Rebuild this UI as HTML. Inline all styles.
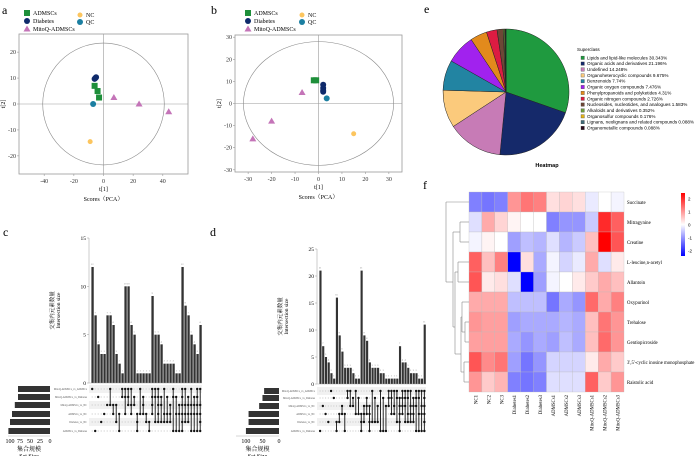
<!DOCTYPE html>
<html><head><meta charset="utf-8"><style>
body{margin:0;background:#fff;}
svg{display:block;font-family:"Liberation Serif","Noto Serif CJK SC",serif;}
.s{font-family:"Liberation Sans",sans-serif;}
</style></head><body>
<svg id="fig" width="700" height="456" viewBox="0 0 700 456">
<text x="2" y="14" font-size="12">a</text>
<text x="211" y="14" font-size="12">b</text>
<text x="424" y="13" font-size="12">e</text>
<text x="423" y="189" font-size="12">f</text>
<text x="3" y="236" font-size="12">c</text>
<text x="210" y="236" font-size="12">d</text>
<g id="gA"></g>
<g id="gB"></g>
<g id="gE"></g>
<g id="gF"></g>
<g id="gC"></g>
<g id="gD"></g>
</svg>
<script>
// ---------- data ----------
const pcaGroups=["ADMSCs","Diabetes","NC","QC","MitoQ-ADMSCs"];
const pcaAx=[-6,-4,-3]; const pcaAy=[7,5,2.5];
const pcaDx=[-5.5,-5,-6]; const pcaDy=[10,10.3,9.7];
const pcaQCx=[-7]; const pcaQCy=[0];
const pcaNCx=[-9]; const pcaNCy=[-14.5];
const pcaMx=[7,24,44]; const pcaMy=[2.5,0,-3];
const pcaTicksAx=[-40,-20,0,20,40]; const pcaTicksAy=[-20,-10,0,10,20];
const pcbAx=[-2,-1]; const pcbAy=[10.5,10.5];
const pcbDx=[2,2,2,2]; const pcbDy=[8.5,7,6,5.3];
const pcbQCx=[3.5]; const pcbQCy=[2.3];
const pcbNCx=[15]; const pcbNCy=[-13.7];
const pcbMx=[-7,-20,-28]; const pcbMy=[5,-8,-16];
const pcbTicksX=[-30,-20,-10,0,10,20,30]; const pcbTicksY=[-30,-20,-10,0,10,20,30];

const pieLabels=["Lipids and lipid-like molecules","Organic acids and derivatives","Undefined","Organoheterocyclic compounds","Benzenoids","Organic oxygen compounds","Phenylpropanoids and polyketides","Organic nitrogen compounds","Nucleosides, nucleotides, and analogues","Alkaloids and derivatives","Organosulfur compounds","Lignans, neolignans and related compounds","Organometallic compounds"];
const pieValues=[30.343,21.196,14.248,9.675,7.74,7.476,4.31,2.726,1.583,0.352,0.176,0.088,0.088];
const pieColors=["#1f9a3f","#15296a","#c77bb6","#fbca7c","#2284a2","#a122ee","#e28a1c","#dc1c42","#6d4736","#6d9c3c","#e2b21a","#3f6a78","#2b0b1c"];

const hmRows=["Succinate","Mitragynine","Creatine","L-leucine,n-acetyl","Allantoin","Oxypurinol","Trehalose","Gentiopicroside","3',5'-cyclic inosine monophosphate","Raistolic acid"];
const hmCols=["NC1","NC2","NC3","Diabetes1","Diabetes2","Diabetes3","ADMSCs1","ADMSCs2","ADMSCs3","MitoQ-ADMSCs1","MitoQ-ADMSCs2","MitoQ-ADMSCs3"];
const hmValues=[
[-1.2,-1.3,-1.2,1.0,1.3,1.2,0.3,0.4,0.3,-0.2,0,-0.1],
[-0.3,0.8,0.4,0.1,0,0,-1.2,-1.0,-1.0,-0.5,2.0,1.5],
[-0.1,0.1,0,-0.9,-0.6,-0.7,-0.3,-0.7,-0.5,0.6,2.4,1.6],
[1.5,0.6,1.2,-2.4,0.3,-0.8,-0.1,-0.4,-0.2,0.8,-0.3,0.2],
[1.6,0.2,0.3,-0.3,-2.4,-0.9,-0.1,0,0.2,0.5,0.8,0.6],
[0.8,0.8,0.8,-0.6,-0.6,-0.6,-1.3,-0.8,-1.0,1.4,0.8,1.2],
[1.0,0.9,0.9,-0.9,-0.8,-0.8,-0.8,-0.7,-0.8,0.6,1.3,1.0],
[0.9,0.9,0.9,-0.8,-1.0,-0.8,-0.9,-0.6,-0.8,0.6,1.4,1.0],
[1.6,1.1,1.3,-0.9,-1.3,-1.0,-0.4,-0.4,-0.4,0.2,0.8,0.5],
[1.0,0.5,0.7,-1.2,-1.3,-1.2,-0.3,-0.3,-0.3,1.5,0.5,1.0]];
const hmLegendTicks=[2,1,0,-1,-2];

const upSets=["MitoQ-ADMSCs_vs_ADMSCs","MitoQ-ADMSCs_vs_Diabetes","MitoQ-ADMSCs_vs_NC","ADMSCs_vs_NC","Diabetes_vs_NC","ADMSCs_vs_Diabetes"];
const upCSizes=[80,80,88,95,100,104];
const upCValues=[12,7,4,3,3,7,7,6,3,2,1,10,10,6,5,1,1,1,1,1,9,5,5,4,2,2,2,2,1,1,12,8,7,5,4,3,6];
const upCMasks=[1,32,2,16,8,4,5,12,20,40,3,11,7,13,6,56,9,14,24,48,15,19,31,22,25,26,28,35,42,44,63,29,30,45,46,47,61];
const upCTicks=[0,5,10,15]; const upCSizeTicks=[100,75,50,25,0];
const upDSizes=[45,50,60,92,92,100];
const upDValues=[21,7,5,4,2,1,16,9,6,3,3,3,2,1,1,21,9,8,4,3,3,3,2,2,1,1,1,1,1,7,4,4,3,2,2,2,1,1,11];
const upDMasks=[32,4,8,16,1,2,48,24,12,40,3,5,6,9,10,56,28,14,60,17,18,20,33,34,36,7,11,13,19,62,15,23,27,29,30,39,43,45,63];
const upDTicks=[0,5,10,15,20,25]; const upDSizeTicks=[100,50,0];

// ---------- helpers ----------
const NS="http://www.w3.org/2000/svg";
function mk(parent,tag,attrs,name){const e=document.createElementNS(NS,tag);for(const k in attrs)e.setAttribute(k,attrs[k]);


parent.appendChild(e);return e;}
function txt(parent,x,y,s,size,name,extra){const t=mk(parent,'text',Object.assign({x:x,y:y,'font-size':size},extra||{}),name);t.textContent=s;return t;}

// ---------- PCA ----------
function pca(g,box,xs,ys,xr,yr,tx,ty,ell,pts,leg){
  const sx=v=>box.x0+(v-xr[0])/(xr[1]-xr[0])*(box.x1-box.x0);
  const sy=v=>box.y1-(v-yr[0])/(yr[1]-yr[0])*(box.y1-box.y0);
  mk(g,'rect',{x:box.x0,y:box.y0,width:box.x1-box.x0,height:box.y1-box.y0,fill:'none',stroke:'#999','stroke-width':0.8},'plot-frame');
  mk(g,'line',{x1:box.x0,x2:box.x1,y1:sy(0),y2:sy(0),stroke:'#999','stroke-width':0.6},'zero-line-h');
  mk(g,'line',{x1:sx(0),x2:sx(0),y1:box.y0,y2:box.y1,stroke:'#999','stroke-width':0.6},'zero-line-v');
  mk(g,'ellipse',{cx:sx(0),cy:sy(0),rx:sx(ell[0])-sx(0),ry:sy(0)-sy(ell[1]),fill:'none',stroke:'#888','stroke-width':0.6},'hotelling-ellipse');
  tx.forEach(v=>{mk(g,'line',{x1:sx(v),x2:sx(v),y1:box.y1,y2:box.y1+2,stroke:'#999','stroke-width':0.6},'x-tick');txt(g,sx(v),box.y1+9,String(v),6,'x-tick-label',{'text-anchor':'middle',fill:'#333'});});
  ty.forEach(v=>{mk(g,'line',{x1:box.x0-2,x2:box.x0,y1:sy(v),y2:sy(v),stroke:'#999','stroke-width':0.6},'y-tick');txt(g,box.x0-3,sy(v)+2,String(v),6,'y-tick-label',{'text-anchor':'end',fill:'#333'});});
  txt(g,(box.x0+box.x1)/2,box.y1+17,'t[1]',6,'x-axis-title',{'text-anchor':'middle'});
  txt(g,(box.x0+box.x1)/2,box.y1+27,'Scores（PCA）',6,'x-axis-subtitle',{'text-anchor':'middle'});
  txt(g,box.x0-14,(box.y0+box.y1)/2,'t[2]',6,'y-axis-title',{'text-anchor':'middle',transform:`rotate(-90 ${box.x0-14} ${(box.y0+box.y1)/2})`});
  pts.forEach(p=>{p.x.forEach((v,i)=>drawMark(g,p.type,sx(v),sy(p.y[i]),p.col,'point-'+p.name));});
  leg.forEach(l=>{drawMark(g,l.type,l.x,l.y,l.col,'legend-marker');txt(g,l.x+6,l.y+2,l.name,6,'legend-entry');});
}
function drawMark(g,type,x,y,c,name){
  if(type==='sq')mk(g,'rect',{x:x-3,y:y-3,width:6,height:6,fill:c},name);
  else if(type==='ci')mk(g,'circle',{cx:x,cy:y,r:3,fill:c},name);
  else if(type==='di')mk(g,'circle',{cx:x,cy:y,r:2.5,fill:c},name);
  else mk(g,'path',{d:`M${x},${y-3.5}L${x+3.5},${y+2.5}L${x-3.5},${y+2.5}Z`,fill:c},name);
}
const GRN='#1e8f3a',NAV='#0f2a6b',ORG='#fcc55e',TEA='#1b7fa1',PNK='#c474b8';
pca(document.getElementById('gA'),{x0:19,x1:188,y0:34,y1:174},0,0,[-57,57],[-27,27],pcaTicksAx,pcaTicksAy,[41,23.5],
 [{x:pcaAx,y:pcaAy,type:'sq',col:GRN,name:'admscs'},{x:pcaDx,y:pcaDy,type:'ci',col:NAV,name:'diabetes'},{x:pcaQCx,y:pcaQCy,type:'ci',col:TEA,name:'qc'},{x:pcaNCx,y:pcaNCy,type:'di',col:ORG,name:'nc'},{x:pcaMx,y:pcaMy,type:'tr',col:PNK,name:'mitoq'}],
 [{x:27,y:13,type:'sq',col:GRN,name:'ADMSCs'},{x:27,y:21,type:'ci',col:NAV,name:'Diabetes'},{x:27,y:29,type:'tr',col:PNK,name:'MitoQ-ADMSCs'},{x:80,y:15,type:'di',col:ORG,name:'NC'},{x:80,y:22,type:'ci',col:TEA,name:'QC'}]);
pca(document.getElementById('gB'),{x0:235,x1:402,y0:35,y1:172},0,0,[-35.6,35.6],[-31,31],pcbTicksX,pcbTicksY,[32,28],
 [{x:pcbAx,y:pcbAy,type:'sq',col:GRN,name:'admscs'},{x:pcbDx,y:pcbDy,type:'ci',col:NAV,name:'diabetes'},{x:pcbQCx,y:pcbQCy,type:'ci',col:TEA,name:'qc'},{x:pcbNCx,y:pcbNCy,type:'di',col:ORG,name:'nc'},{x:pcbMx,y:pcbMy,type:'tr',col:PNK,name:'mitoq'}],
 [{x:248,y:13,type:'sq',col:GRN,name:'ADMSCs'},{x:248,y:21,type:'ci',col:NAV,name:'Diabetes'},{x:248,y:29,type:'tr',col:PNK,name:'MitoQ-ADMSCs'},{x:302,y:15,type:'di',col:ORG,name:'NC'},{x:302,y:22,type:'ci',col:TEA,name:'QC'}]);

// ---------- Pie ----------
(function(){
 const g=document.getElementById('gE');const cx=506,cy=92,r=63;
 const tot=pieValues.reduce((a,b)=>a+b,0);let a=0;
 pieValues.forEach((v,i)=>{const a0=a/tot*2*Math.PI;a+=v;const a1=a/tot*2*Math.PI;
  const x0=cx+r*Math.sin(a0),y0=cy-r*Math.cos(a0),x1=cx+r*Math.sin(a1),y1=cy-r*Math.cos(a1);
  mk(g,'path',{d:`M${cx},${cy}L${x0},${y0}A${r},${r} 0 ${(a1-a0)>Math.PI?1:0} 1 ${x1},${y1}Z`,fill:pieColors[i],stroke:'#222','stroke-width':0.5},'pie-slice');});
 txt(g,577,51,'Superclass',4.6,'legend-title',{class:'s'});
 pieLabels.forEach((l,i)=>{const y=57.7+i*5.85;
  mk(g,'rect',{x:581,y:y-1.6,width:3.4,height:3.4,fill:pieColors[i],stroke:'#333','stroke-width':0.3},'legend-swatch');
  txt(g,587,y+1.6,l+' '+pieValues[i]+'%',4.6,'legend-entry',{class:'s'});});
 txt(g,547,167,'Heatmap',5.5,'heatmap-title',{class:'s','font-weight':'bold','text-anchor':'middle'});
})();

// ---------- Heatmap ----------
(function(){
 const g=document.getElementById('gF');const x0=469,y0=192,cw=155/12,rh=20;
 function col(v){const t=Math.max(-1,Math.min(1,v/2.4));
  if(t>=0){const k=Math.round(255*(1-t));return `rgb(255,${k},${k})`;}const k=Math.round(255*(1+t));return `rgb(${k},${k},255)`;}
 hmValues.forEach((row,r)=>row.forEach((v,c)=>mk(g,'rect',{x:x0+c*cw,y:y0+r*rh,width:cw,height:rh,fill:col(v),stroke:'#bbb','stroke-width':0.3},'heatmap-cell')));
 hmRows.forEach((n,r)=>txt(g,x0+12*cw+3,y0+r*rh+rh/2+2,n,4.8,'row-label'));
 hmCols.forEach((n,c)=>{const x=x0+c*cw+cw/2+2,y=y0+10*rh+3;txt(g,x,y,n,4.8,'column-label',{'text-anchor':'end',transform:`rotate(-90 ${x} ${y})`});});
 const yc=r=>y0+r*rh+rh/2;const L=(a,b,c,d)=>mk(g,'line',{x1:a,y1:b,x2:c,y2:d,stroke:'#888','stroke-width':0.6},'dendrogram-branch');
 const seg=(x,ya,yb,xa,xb)=>{L(x,ya,x,yb);L(x,ya,xa,ya);L(x,yb,xb,yb);};
 seg(460,yc(1),yc(2),x0,x0);
 seg(465,yc(6),yc(7),x0,x0);
 seg(464,yc(8),yc(9),x0,x0);
 seg(462,yc(5),(yc(6)+yc(7))/2,x0,465);
 seg(461,(yc(5)+yc(6))/2+5,(yc(8)+yc(9))/2,462,464);
 seg(458,yc(3),yc(4),x0,x0);
 seg(455,(yc(3)+yc(4))/2,(yc(5)+yc(9))/2+12,458,461);
 seg(453,(yc(1)+yc(2))/2,(yc(3)+yc(9))/2+5,460,455);
 seg(446,yc(0),(yc(1)+yc(8))/2-10,x0,453);
 const cb=mk(g,'defs',{},'gradient-defs');
 cb.innerHTML='<linearGradient id="cbg" x1="0" y1="0" x2="0" y2="1"><stop offset="0" stop-color="#f00"/><stop offset="0.5" stop-color="#fff"/><stop offset="1" stop-color="#00f"/></linearGradient>';
 mk(g,'rect',{x:681,y:193,width:4,height:63,fill:'url(#cbg)'},'color-bar');
 hmLegendTicks.forEach(v=>txt(g,688,224.5-v*13+2,String(v),4.5,'color-bar-tick',{class:'s'}));
})();

// ---------- UpSet ----------
function upset(g,vals,masks,sizes,yTicks,sizeTicks,o){
 const sy=v=>o.y0-(v/o.ymax)*(o.y0-o.ytop);
 const bw=(o.x1-o.x0)/vals.length;
 mk(g,'line',{x1:o.x0-2,x2:o.x0-2,y1:o.ytop,y2:o.y0,stroke:'#999','stroke-width':0.5},'y-axis');
 yTicks.forEach(v=>{txt(g,o.x0-5,sy(v)+2,String(v),5.5,'y-tick-label',{'text-anchor':'end'});mk(g,'line',{x1:o.x0-4,x2:o.x0-2,y1:sy(v),y2:sy(v),stroke:'#999','stroke-width':0.5},'y-tick');});
 const tx=o.x0-37,ty=(o.ytop+o.y0)/2;
 txt(g,tx,ty,'交集内元素数量',5.5,'y-axis-title',{'text-anchor':'middle',transform:`rotate(-90 ${tx} ${ty})`});
 txt(g,tx+6,ty,'Intersection size',5.5,'y-axis-title-en',{'text-anchor':'middle',transform:`rotate(-90 ${tx+6} ${ty})`});
 vals.forEach((v,i)=>{const x=o.x0+i*bw;mk(g,'rect',{x:x+0.4,y:sy(v),width:bw*0.78,height:o.y0-sy(v),fill:'#333'},'intersection-bar');
  txt(g,x+bw*0.4,sy(v)-2,String(v),2.5,'bar-value',{'text-anchor':'middle',fill:'#777'});});
 mk(g,'line',{x1:o.x0-2,x2:o.x1,y1:o.y0,y2:o.y0,stroke:'#999','stroke-width':0.4},'x-axis');
 const rowY=o.rows;
 rowY.forEach((y,r)=>{ if(r%2===0)mk(g,'rect',{x:o.x0-2,y:y-4,width:o.x1-o.x0+2,height:8,fill:'#f1f1f1'},'matrix-row-band');});
 masks.forEach((m,i)=>{const x=o.x0+i*bw+bw*0.4;let mn=Infinity,mx=-Infinity;
  rowY.forEach((y,r)=>{const on=(m>>r)&1;if(on){mn=Math.min(mn,y);mx=Math.max(mx,y);}
   mk(g,'circle',{cx:x,cy:y,r:on?1.2:0.6,fill:on?'#111':'#ccc'},'matrix-dot');});
  if(mx>mn)mk(g,'line',{x1:x,x2:x,y1:mn,y2:mx,stroke:'#111','stroke-width':0.9},'matrix-link');});
 const sx=v=>o.sr-(v/o.smax)*(o.sr-o.sl);
 sizes.forEach((v,r)=>{mk(g,'rect',{x:sx(v),y:rowY[r]-3,width:o.sr-sx(v),height:6,fill:'#333'},'set-size-bar');
  txt(g,o.x0-4,rowY[r]+1,upSets[r],2.6,'set-label',{'text-anchor':'end',fill:'#555'});});
 mk(g,'line',{x1:o.sl,x2:o.sr,y1:rowY[5]+5,y2:rowY[5]+5,stroke:'#999','stroke-width':0.4},'set-size-axis');
 sizeTicks.forEach(v=>txt(g,sx(v),rowY[5]+12,String(v),6,'set-size-tick',{'text-anchor':'middle'}));
 const mid=(o.sl+o.sr)/2;
 txt(g,mid,rowY[5]+20,'集合规模',6,'set-size-title',{'text-anchor':'middle'});
 txt(g,mid,rowY[5]+27,'Set Size',6,'set-size-title-en',{'text-anchor':'middle'});
}
upset(document.getElementById('gC'),upCValues,upCMasks,upCSizes,upCTicks,upCSizeTicks,
 {x0:91,x1:202,y0:383,ytop:238,ymax:15,rows:[389,397,405,414,422,431],sl:8,sr:50,smax:105});
upset(document.getElementById('gD'),upDValues,upDMasks,upDSizes,upDTicks,upDSizeTicks,
 {x0:319,x1:426,y0:384,ytop:249,ymax:25,rows:[391,398,406,414,422,431],sl:236,sr:279,smax:130});
</script>
</body></html>
